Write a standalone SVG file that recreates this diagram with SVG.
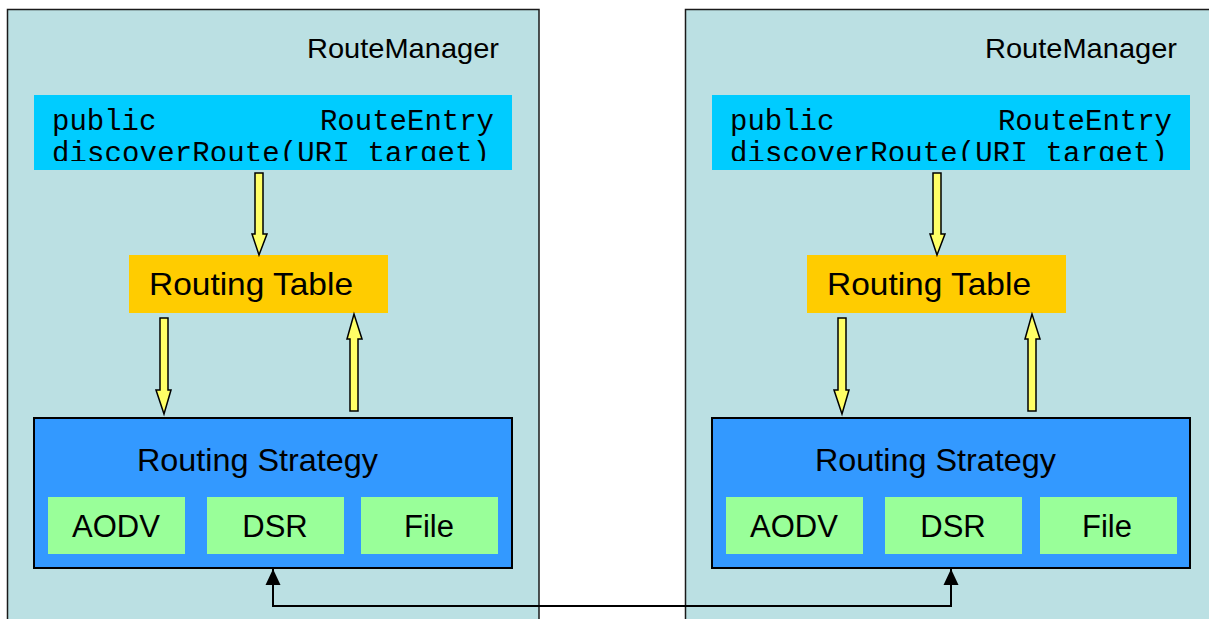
<svg xmlns="http://www.w3.org/2000/svg" width="1209" height="619" viewBox="0 0 1209 619">
  <style>
    .mgr { fill: #BBE0E3; stroke: #1a1a1a; stroke-width: 1.5; }
    .code { fill: #00CCFF; }
    .table { fill: #FFCC00; }
    .strategy { fill: #3399FF; stroke: #000; stroke-width: 2; }
    .algo { fill: #99FF99; }
    .sans { font-family: "Liberation Sans", Arial, sans-serif; fill: #000; }
    .mono { font-family: "Liberation Mono", "Courier New", monospace; font-size: 29px; fill: #000; }
    .flow { fill: #FFFF66; stroke: #000; stroke-width: 1.5; stroke-linejoin: miter; }
    .link { fill: none; stroke: #000; stroke-width: 2; }
  </style>
  <defs>
    <marker id="tip" viewBox="0 0 16 16" refX="16" refY="8" markerWidth="16" markerHeight="16" markerUnits="userSpaceOnUse" orient="auto">
      <path d="M0,0.5 L16,8 L0,15.5 Z" fill="#000"/>
    </marker>
    <clipPath id="codeClipL"><rect x="34" y="95" width="478" height="66"/></clipPath>
    <clipPath id="codeClipR"><rect x="712" y="95" width="478" height="66"/></clipPath>
  </defs>

  <!-- left RouteManager -->
  <g id="routeManagerLeft">
    <rect class="mgr" x="7.5" y="9.5" width="531.5" height="620"/>
    <text class="sans" x="307" y="58" font-size="28.5" textLength="192" lengthAdjust="spacingAndGlyphs">RouteManager</text>
  </g>
  <g id="discoverRouteLeft">
    <rect class="code" x="34" y="95" width="478" height="75"/>
    <g clip-path="url(#codeClipL)">
      <text class="mono" x="52" y="130">public</text>
      <text class="mono" x="494" y="130" text-anchor="end">RouteEntry</text>
      <text class="mono" x="52" y="162" textLength="438" lengthAdjust="spacing">discoverRoute(URI target)</text>
    </g>
  </g>
  <g id="routingTableLeft">
    <rect class="table" x="129" y="255" width="259" height="58"/>
    <text class="sans" x="149" y="295" font-size="32" textLength="204" lengthAdjust="spacingAndGlyphs">Routing Table</text>
  </g>
  <g id="routingStrategyLeft">
    <rect class="strategy" x="34" y="418" width="478" height="150"/>
    <text class="sans" x="137" y="471" font-size="32" textLength="241" lengthAdjust="spacingAndGlyphs">Routing Strategy</text>
    <g id="aodvLeft">
      <rect class="algo" x="48" y="497" width="137" height="57"/>
      <text class="sans" x="116" y="537" font-size="31" text-anchor="middle">AODV</text>
    </g>
    <g id="dsrLeft">
      <rect class="algo" x="207" y="497" width="137" height="57"/>
      <text class="sans" x="275" y="537" font-size="31" text-anchor="middle">DSR</text>
    </g>
    <g id="fileLeft">
      <rect class="algo" x="361" y="497" width="137" height="57"/>
      <text class="sans" x="429" y="537" font-size="31" text-anchor="middle">File</text>
    </g>
  </g>

  <!-- right RouteManager -->
  <g id="routeManagerRight">
    <rect class="mgr" x="685.5" y="9.5" width="600" height="620"/>
    <text class="sans" x="985" y="58" font-size="28.5" textLength="192" lengthAdjust="spacingAndGlyphs">RouteManager</text>
  </g>
  <g id="discoverRouteRight">
    <rect class="code" x="712" y="95" width="478" height="75"/>
    <g clip-path="url(#codeClipR)">
      <text class="mono" x="730" y="130">public</text>
      <text class="mono" x="1172" y="130" text-anchor="end">RouteEntry</text>
      <text class="mono" x="730" y="162" textLength="438" lengthAdjust="spacing">discoverRoute(URI target)</text>
    </g>
  </g>
  <g id="routingTableRight">
    <rect class="table" x="807" y="255" width="259" height="58"/>
    <text class="sans" x="827" y="295" font-size="32" textLength="204" lengthAdjust="spacingAndGlyphs">Routing Table</text>
  </g>
  <g id="routingStrategyRight">
    <rect class="strategy" x="712" y="418" width="478" height="150"/>
    <text class="sans" x="815" y="471" font-size="32" textLength="241" lengthAdjust="spacingAndGlyphs">Routing Strategy</text>
    <g id="aodvRight">
      <rect class="algo" x="726" y="497" width="137" height="57"/>
      <text class="sans" x="794" y="537" font-size="31" text-anchor="middle">AODV</text>
    </g>
    <g id="dsrRight">
      <rect class="algo" x="885" y="497" width="137" height="57"/>
      <text class="sans" x="953" y="537" font-size="31" text-anchor="middle">DSR</text>
    </g>
    <g id="fileRight">
      <rect class="algo" x="1040" y="497" width="137" height="57"/>
      <text class="sans" x="1107" y="537" font-size="31" text-anchor="middle">File</text>
    </g>
  </g>

  <!-- connectors -->
  <g id="connectors">
    <!-- block arrows, left side -->
    <path class="flow" d="M255,173 H263 V234 H267 L259,255 L252,234 H255 Z"/>
    <path class="flow" d="M160,318 H168 V390 H171 L164,414 L156,390 H160 Z"/>
    <path class="flow" d="M350,411 H358 V339 H362 L354,314 L347,339 H350 Z"/>
    <!-- block arrows, right side -->
    <path class="flow" d="M933,173 H941 V234 H945 L937,255 L930,234 H933 Z"/>
    <path class="flow" d="M838,318 H846 V390 H849 L842,414 L834,390 H838 Z"/>
    <path class="flow" d="M1028,411 H1036 V339 H1040 L1032,314 L1025,339 H1028 Z"/>
    <!-- link between the two routing strategies -->
    <path class="link" d="M612,606 H273 V569" marker-end="url(#tip)"/>
    <path class="link" d="M612,606 H951 V569" marker-end="url(#tip)"/>
  </g>
</svg>
